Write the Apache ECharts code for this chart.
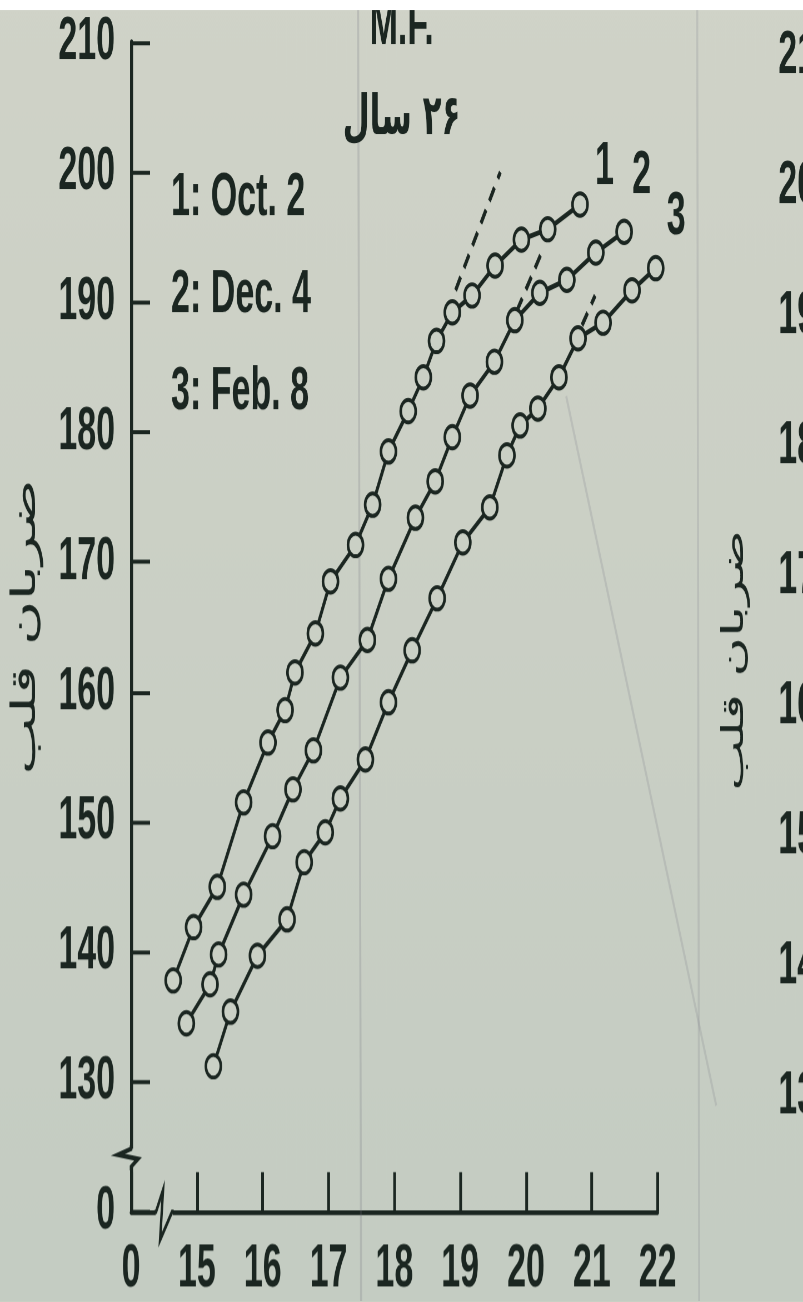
<!DOCTYPE html>
<html>
<head>
<meta charset="utf-8">
<script src="https://cdn.jsdelivr.net/npm/echarts@6/dist/echarts.min.js"></script>
<style>
  html, body { margin: 0; padding: 0; width: 803px; height: 1302px; overflow: hidden; background: #c9d0c4; }
  /* the photographed page is stretched vertically: draw at 1/1.8 height and stretch back */
  #chart { width: 803px; height: 723.33px; transform: scaleY(1.8); transform-origin: 0 0; }
</style>
</head>
<body>
<div id="chart"></div>
<script>
const seriesNames = ["1: Oct. 2", "2: Dec. 4", "3: Feb. 8"];
const endTags = ["1", "2", "3"];

// [speed, heart rate]
const oct2 = [
  [14.64, 137.8], [14.95, 141.9], [15.31, 145.0], [15.71, 151.5], [16.08, 156.1],
  [16.34, 158.6], [16.49, 161.5], [16.80, 164.5], [17.03, 168.5], [17.41, 171.3],
  [17.67, 174.4], [17.91, 178.5], [18.21, 181.6], [18.44, 184.2], [18.64, 187.0],
  [18.88, 189.2], [19.18, 190.5], [19.53, 192.8], [19.93, 194.8], [20.33, 195.6],
  [20.82, 197.5]
];
const dec4 = [
  [14.84, 134.5], [15.20, 137.5], [15.33, 139.8], [15.71, 144.4], [16.15, 148.9],
  [16.46, 152.5], [16.77, 155.5], [17.18, 161.1], [17.59, 164.0], [17.91, 168.7],
  [18.32, 173.4], [18.62, 176.2], [18.88, 179.6], [19.15, 182.8], [19.52, 185.4],
  [19.83, 188.6], [20.21, 190.7], [20.62, 191.7], [21.06, 193.8], [21.49, 195.4]
];
const feb8 = [
  [15.25, 131.2], [15.51, 135.4], [15.92, 139.7], [16.37, 142.5], [16.63, 146.9],
  [16.95, 149.2], [17.18, 151.8], [17.56, 154.8], [17.91, 159.2], [18.27, 163.2],
  [18.65, 167.2], [19.04, 171.5], [19.45, 174.2], [19.71, 178.2], [19.91, 180.5],
  [20.18, 181.8], [20.50, 184.2], [20.79, 187.2], [21.17, 188.4], [21.61, 190.9],
  [21.97, 192.6]
];
// dashed linear extrapolations
const trendDash = [
  [[18.93, 190.9], [19.61, 200.0]],
  [[19.86, 189.3], [20.22, 193.6]],
  [[20.85, 188.2], [21.05, 190.5]]
];
const xBreakAt = 14;   // shown as "0"
const yBreakAt = 120;  // shown as "0"
const rightCutLabels = [210, 200, 190, 180, 170, 160, 150, 140, 130];

const ink = "#1b2621";
const paper = "#cad0c5";
const latin = '"Liberation Sans", Arial, sans-serif';
const arabic = '"DejaVu Sans", "Noto Sans", sans-serif';
const endOffsets = [[7, -20.5], [0, -30.6], [3, -28.3]];

const chart = echarts.init(document.getElementById("chart"), null, { devicePixelRatio: 1.8 });

chart.setOption({
  animation: false,
  backgroundColor: {
    type: "linear", x: 0, y: 0, x2: 0, y2: 1,
    colorStops: [{ offset: 0, color: "#d0d3c8" }, { offset: 1, color: "#c4ccc2" }]
  },
  title: [
    { text: "M.F.", left: "center", top: -7, textStyle: { color: ink, fontSize: 34, fontFamily: latin, fontWeight: "bold" } },
    { text: "\u200F۲۶ سال", left: "center", top: 46, textStyle: { color: ink, fontSize: 31, fontFamily: arabic, fontWeight: "bold" } }
  ],
  legend: {
    data: seriesNames,
    orient: "vertical",
    left: 161,
    top: 88,
    icon: "none",
    itemWidth: 0,
    itemHeight: 10,
    itemGap: 20,
    selectedMode: false,
    textStyle: { color: ink, fontSize: 34, fontFamily: latin, fontWeight: "bold" }
  },
  grid: { left: 131, right: 145.5, top: 23.33, bottom: 50 },
  xAxis: {
    type: "value",
    min: xBreakAt,
    max: 22,
    interval: 1,
    axisLine: { show: true, lineStyle: { color: ink, width: 2.6 } },
    axisTick: { show: true, inside: true, length: 22, lineStyle: { color: ink, width: 2.8 } },
    axisLabel: {
      color: ink, fontSize: 34, fontFamily: latin, fontWeight: "bold", margin: 15,
      formatter: (v) => (v === xBreakAt ? "0" : String(v))
    },
    splitLine: { show: false }
  },
  yAxis: {
    type: "value",
    min: yBreakAt,
    max: 210,
    interval: 10,
    name: "ضربان قلب",
    nameLocation: "middle",
    nameRotate: 90,
    nameGap: 88,
    nameTextStyle: { color: ink, fontSize: 34, fontFamily: arabic },
    axisLine: { show: true, lineStyle: { color: ink, width: 3 } },
    axisTick: { show: true, inside: true, length: 19, lineStyle: { color: ink, width: 2.2 } },
    axisLabel: {
      color: ink, fontSize: 34, fontFamily: latin, fontWeight: "bold", margin: 16,
      formatter: (v) => (v === yBreakAt ? "0" : String(v))
    },
    splitLine: { show: false }
  },
  series: [oct2, dec4, feb8].map((data, i) => ({
    name: seriesNames[i],
    type: "line",
    data,
    symbol: "circle",
    symbolSize: [15, 12.5],
    itemStyle: { color: paper, borderColor: ink, borderWidth: 2.4 },
    lineStyle: { color: ink, width: 2.8 },
    emphasis: { disabled: true },
    endLabel: {
      show: true, formatter: endTags[i], offset: endOffsets[i],
      color: ink, fontSize: 34, fontFamily: latin, fontWeight: "bold"
    },
    markLine: {
      silent: true,
      symbol: ["none", "none"],
      label: { show: false },
      lineStyle: { color: ink, width: 3, type: [9, 6] },
      data: [[{ coord: trendDash[i][0] }, { coord: trendDash[i][1] }]]
    }
  }))
});

// axis breaks, cut-off neighbour page, paper strip
function decorate() {
  const yb = chart.convertToPixel({ gridIndex: 0 }, [xBreakAt, 124.15]);
  const xb = chart.convertToPixel({ gridIndex: 0 }, [14.45, yBreakAt]);
  const elements = [
    { type: "rect", shape: { x: yb[0] - 4, y: yb[1] - 5, width: 8, height: 10 }, style: { fill: "#c5cdc3" }, z: 50 },
    {
      type: "polyline", z: 51,
      shape: { points: [[yb[0], yb[1] - 7], [yb[0], yb[1] - 5], [yb[0] - 13, yb[1] - 1.7], [yb[0] + 7, yb[1] + 0.6], [yb[0], yb[1] + 5], [yb[0], yb[1] + 7]] },
      style: { stroke: ink, lineWidth: 2.6, fill: null }
    },
    { type: "rect", shape: { x: xb[0] - 5, y: xb[1] - 3, width: 17, height: 6 }, style: { fill: "#c5cdc3" }, z: 50 },
    {
      type: "polyline", z: 51,
      shape: { points: [[xb[0] - 6, xb[1]], [xb[0] - 4.6, xb[1]], [xb[0] + 2.4, xb[1] - 12.2], [xb[0] - 0.6, xb[1] + 15.6], [xb[0] + 11.4, xb[1]], [xb[0] + 13, xb[1]]] },
      style: { stroke: ink, lineWidth: 2.4, fill: null }
    },
    { type: "line", shape: { x1: 358, y1: 0, x2: 361, y2: 724 }, style: { stroke: "rgba(110,110,125,0.22)", lineWidth: 2 }, z: 1 },
    { type: "line", shape: { x1: 697, y1: 0, x2: 699, y2: 724 }, style: { stroke: "rgba(110,110,125,0.18)", lineWidth: 2 }, z: 1 },
    { type: "line", shape: { x1: 566, y1: 220, x2: 716, y2: 614 }, style: { stroke: "rgba(110,110,125,0.18)", lineWidth: 2 }, z: 1 },
    {
      type: "text", x: 735, y: 366.7, rotation: Math.PI / 2,
      style: { text: "ضربان قلب", fill: ink, fontSize: 30, fontFamily: arabic, align: "center", verticalAlign: "middle" }
    },
    { type: "rect", shape: { x: 0, y: 0, width: 803, height: 5.6 }, style: { fill: "#ffffff" }, z: 100 }
  ];
  rightCutLabels.forEach((v) => {
    const p = chart.convertToPixel({ gridIndex: 0 }, [xBreakAt, v]);
    elements.push({
      type: "text", x: 778, y: p[1] + 8,
      style: { text: String(v), fill: ink, fontSize: 34, fontFamily: latin, fontWeight: "bold", align: "left", verticalAlign: "middle" }
    });
  });
  chart.setOption({ graphic: elements });
}
decorate();
</script>
</body>
</html>
